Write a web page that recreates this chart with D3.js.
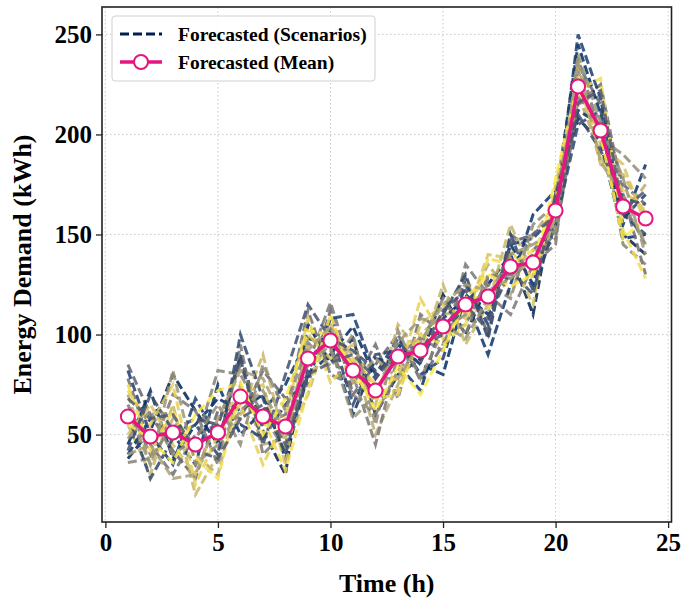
<!DOCTYPE html>
<html>
<head>
<meta charset="utf-8">
<script src="https://cdn.jsdelivr.net/npm/d3@7"></script>
<style>
  body { margin: 0; background: #fff; }
  text { font-family: "Liberation Serif", "Times New Roman", serif; font-weight: bold; }
</style>
</head>
<body>
<div id="chart"></div>
<script>
// hours and mean forecast
const hours = d3.range(1, 25);
const meanDemand = [59, 49, 51, 45, 51, 69, 59, 54, 88, 97, 82, 72, 89, 92, 104, 115, 119, 134, 136, 162, 224, 202, 164, 158];

// scenario forecasts (approximate)
const scenarios = [
    [38, 52, 80, 62, 45, 90, 52, 30, 105, 86, 98, 60, 80, 88, 120, 100, 125, 140, 110, 170, 208, 196, 150, 140],
    [85, 60, 42, 28, 62, 58, 82, 68, 75, 112, 70, 85, 100, 77, 95, 128, 100, 150, 142, 155, 235, 215, 175, 165],
    [70, 35, 58, 40, 30, 75, 45, 48, 95, 100, 90, 50, 75, 100, 110, 112, 135, 120, 150, 165, 220, 190, 160, 175],
    [45, 72, 38, 55, 68, 62, 70, 38, 80, 90, 104, 78, 95, 85, 80, 120, 110, 145, 125, 168, 245, 210, 148, 150],
    [78, 45, 30, 50, 55, 85, 55, 60, 112, 80, 75, 95, 68, 110, 100, 105, 128, 130, 140, 150, 215, 225, 170, 130],
    [55, 30, 65, 20, 40, 60, 90, 45, 70, 105, 85, 65, 105, 90, 125, 95, 115, 155, 130, 158, 228, 185, 180, 160],
    [40, 58, 50, 35, 75, 50, 62, 75, 98, 95, 60, 88, 85, 72, 108, 118, 90, 125, 160, 172, 212, 205, 155, 185],
    [65, 40, 70, 62, 35, 95, 40, 52, 85, 116, 80, 45, 90, 98, 92, 135, 120, 110, 135, 145, 238, 200, 165, 145],
    [50, 65, 45, 30, 58, 70, 75, 35, 100, 88, 95, 70, 72, 105, 115, 108, 140, 138, 115, 175, 225, 195, 185, 155],
    [82, 50, 35, 68, 48, 55, 48, 65, 78, 108, 110, 80, 98, 80, 88, 125, 105, 145, 148, 160, 250, 218, 158, 170],
    [36, 38, 55, 45, 82, 80, 60, 42, 90, 92, 70, 60, 82, 95, 118, 100, 130, 128, 138, 148, 218, 208, 145, 135],
    [72, 55, 75, 25, 50, 65, 35, 58, 108, 76, 88, 75, 78, 118, 98, 112, 112, 142, 128, 168, 230, 188, 172, 162],
    [60, 28, 48, 55, 40, 100, 68, 40, 82, 102, 65, 90, 92, 86, 110, 130, 98, 150, 122, 155, 205, 212, 160, 150],
    [48, 62, 40, 48, 65, 45, 85, 62, 96, 84, 100, 55, 102, 78, 102, 110, 125, 118, 155, 165, 232, 198, 190, 178],
    [75, 42, 62, 38, 28, 72, 58, 32, 72, 110, 78, 68, 70, 100, 95, 105, 138, 135, 142, 162, 222, 228, 152, 128],
    [42, 70, 52, 58, 55, 88, 45, 80, 115, 98, 92, 82, 88, 90, 112, 122, 108, 132, 120, 170, 210, 192, 168, 165],
    [62, 35, 82, 35, 45, 62, 72, 50, 88, 94, 58, 70, 96, 108, 105, 98, 118, 140, 145, 152, 240, 206, 178, 140],
    [55, 48, 36, 60, 72, 76, 50, 68, 102, 100, 84, 62, 84, 70, 92, 118, 130, 124, 130, 178, 226, 200, 148, 158],
    [68, 58, 60, 42, 38, 58, 65, 45, 80, 86, 90, 78, 92, 94, 100, 115, 102, 146, 150, 160, 216, 222, 162, 172],
    [40, 45, 28, 30, 58, 82, 78, 55, 92, 104, 76, 88, 78, 96, 115, 125, 122, 128, 138, 158, 236, 186, 170, 145]
];

const xTicks = [0, 5, 10, 15, 20, 25];
const yTicks = [50, 100, 150, 200, 250];

const width = 683, height = 598;
const margin = { top: 7, right: 11.5, bottom: 76, left: 102 };
const meanColor = '#e6157f';

const svg = d3.select('#chart').append('svg')
    .attr('width', width)
    .attr('height', height);

const x = d3.scaleLinear()
    .domain([-0.15, 25.15])
    .range([margin.left, width - margin.right]);

const y = d3.scaleLinear()
    .domain([6.3, 263.7])
    .range([height - margin.bottom, margin.top]);

// grid
svg.append('g').selectAll('line')
    .data(xTicks)
    .enter().append('line')
    .attr('x1', d => x(d)).attr('x2', d => x(d))
    .attr('y1', margin.top).attr('y2', height - margin.bottom)
    .attr('stroke', '#c8c8c8').attr('stroke-width', 1)
    .attr('stroke-dasharray', '1.5,2.5');

svg.append('g').selectAll('line')
    .data(yTicks)
    .enter().append('line')
    .attr('x1', margin.left).attr('x2', width - margin.right)
    .attr('y1', d => y(d)).attr('y2', d => y(d))
    .attr('stroke', '#c8c8c8').attr('stroke-width', 1)
    .attr('stroke-dasharray', '1.5,2.5');

const line = d3.line()
    .x((d, i) => x(hours[i]))
    .y(d => y(d));

// scenario lines, coloured along cividis
svg.append('g').selectAll('path')
    .data(scenarios)
    .enter().append('path')
    .attr('d', line)
    .attr('fill', 'none')
    .attr('stroke', (d, i) => d3.interpolateCividis(((i * 7) % 20) / 19))
    .attr('stroke-width', 3)
    .attr('stroke-dasharray', '9,4')
    .attr('opacity', 0.85);

// mean line
svg.append('path')
    .datum(meanDemand)
    .attr('d', line)
    .attr('fill', 'none')
    .attr('stroke', meanColor)
    .attr('stroke-width', 3.5);

svg.append('g').selectAll('circle')
    .data(meanDemand)
    .enter().append('circle')
    .attr('cx', (d, i) => x(hours[i]))
    .attr('cy', d => y(d))
    .attr('r', 7)
    .attr('fill', '#fff')
    .attr('stroke', meanColor)
    .attr('stroke-width', 2);

// axes
const xAxis = svg.append('g')
    .attr('transform', `translate(0,${height - margin.bottom})`)
    .call(d3.axisBottom(x).tickValues(xTicks).tickSize(6).tickPadding(5));

const yAxis = svg.append('g')
    .attr('transform', `translate(${margin.left},0)`)
    .call(d3.axisLeft(y).tickValues(yTicks).tickSize(6).tickPadding(4));

[xAxis, yAxis].forEach(a => {
    a.select('.domain').remove();
    a.selectAll('.tick line').attr('stroke', '#222').attr('stroke-width', 1.3);
    a.selectAll('.tick text')
        .attr('fill', '#000')
        .style('font-size', '25px')
        .style('font-family', '"Liberation Serif", serif')
        .style('font-weight', 'bold');
});

// frame
svg.append('rect')
    .attr('x', margin.left).attr('y', margin.top)
    .attr('width', width - margin.left - margin.right)
    .attr('height', height - margin.top - margin.bottom)
    .attr('fill', 'none')
    .attr('stroke', '#222')
    .attr('stroke-width', 1.6);

// axis titles
svg.append('text')
    .attr('x', x(12.5))
    .attr('y', 592)
    .attr('text-anchor', 'middle')
    .style('font-size', '26px')
    .text('Time (h)');

svg.append('text')
    .attr('transform', `translate(31,${(margin.top + height - margin.bottom) / 2}) rotate(-90)`)
    .attr('text-anchor', 'middle')
    .style('font-size', '26px')
    .text('Energy Demand (kWh)');

// legend
const legend = svg.append('g');
legend.append('rect')
    .attr('x', 112).attr('y', 16)
    .attr('width', 263).attr('height', 65)
    .attr('rx', 3)
    .attr('fill', 'rgba(255,255,255,0.85)')
    .attr('stroke', '#d0d0d0')
    .attr('stroke-width', 1);

legend.append('line')
    .attr('x1', 120).attr('x2', 162)
    .attr('y1', 34).attr('y2', 34)
    .attr('stroke', d3.interpolateCividis(0))
    .attr('stroke-width', 3)
    .attr('stroke-dasharray', '9,4');

legend.append('line')
    .attr('x1', 120).attr('x2', 162)
    .attr('y1', 62).attr('y2', 62)
    .attr('stroke', meanColor)
    .attr('stroke-width', 3.5);

legend.append('circle')
    .attr('cx', 141).attr('cy', 62).attr('r', 7)
    .attr('fill', '#fff')
    .attr('stroke', meanColor)
    .attr('stroke-width', 2);

legend.selectAll('text.lab')
    .data(['Forecasted (Scenarios)', 'Forecasted (Mean)'])
    .enter().append('text')
    .attr('class', 'lab')
    .attr('x', 178)
    .attr('y', (d, i) => 34 + i * 28)
    .attr('dy', '0.35em')
    .style('font-size', '19.5px')
    .text(d => d);
</script>
</body>
</html>
